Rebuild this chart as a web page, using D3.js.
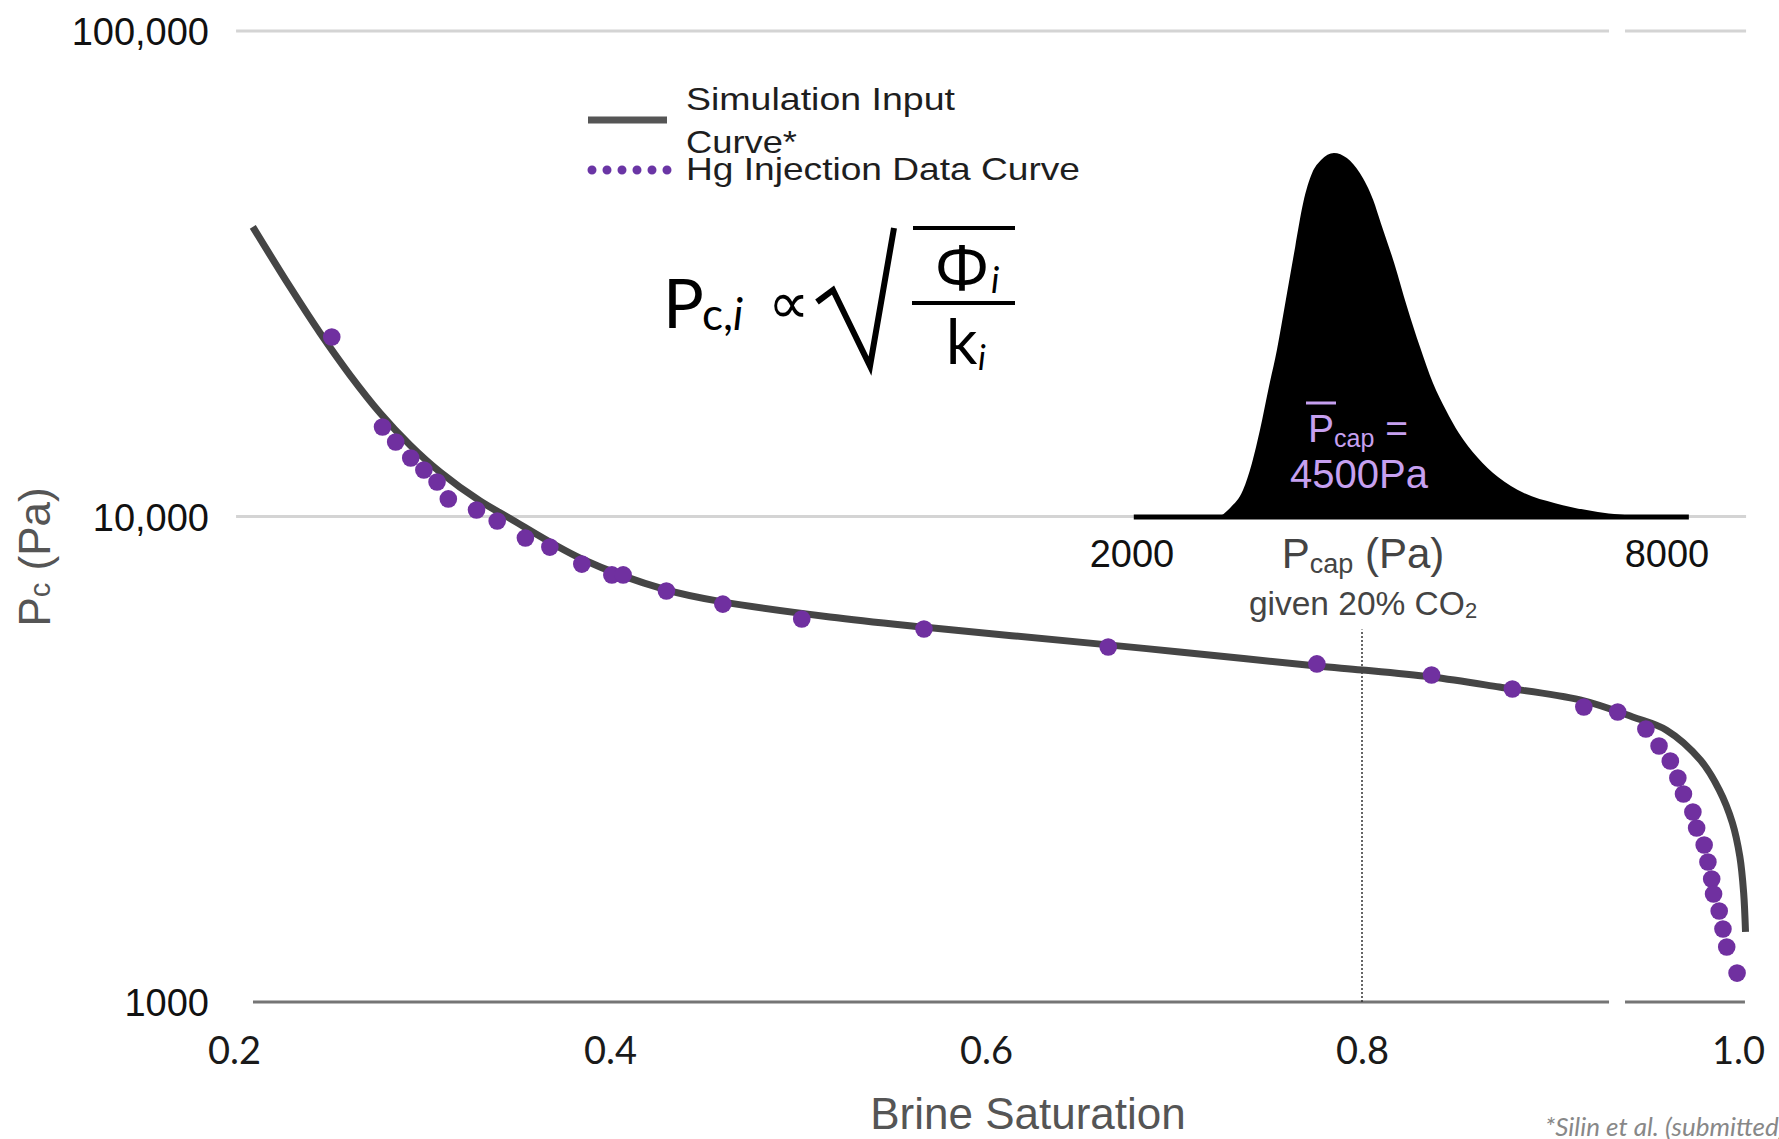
<!DOCTYPE html>
<html>
<head>
<meta charset="utf-8">
<title>Capillary pressure curve</title>
<script src="https://cdn.jsdelivr.net/npm/d3@7"></script>
<style>
    body { margin: 0; background: #ffffff; }
    svg { display: block; }
</style>
</head>
<body>
<div id="chart"></div>
<script>
// Variables
var width = 1779;
var height = 1139;

// simulation input curve (brine saturation, Pc in Pa)
var curveSw = [0.210, 0.2298, 0.2457, 0.2617, 0.2777, 0.2936, 0.3096, 0.3309, 0.345, 0.385, 0.430,
    0.460, 0.517, 0.5665, 0.665, 0.703, 0.776, 0.800, 0.837, 0.873, 0.916, 0.944, 0.962, 0.980,
    0.990, 0.997, 1.001, 1.003, 1.004];
var curvePc = [39500, 29700, 23900, 19560, 16340, 14040, 12350, 10760, 10000, 8175, 7060,
    6670, 6210, 5920, 5440, 5260, 4920, 4830, 4670, 4455, 4190, 3865, 3630, 3150,
    2735, 2340, 1990, 1680, 1395];

// Hg injection data points
var hgSw = [0.252, 0.279, 0.286, 0.294, 0.301, 0.308, 0.314, 0.329, 0.340, 0.355, 0.368, 0.385, 0.401,
    0.407, 0.430, 0.460, 0.502, 0.567, 0.665, 0.776, 0.837, 0.880, 0.918, 0.936, 0.951, 0.958, 0.964,
    0.968, 0.971, 0.976, 0.978, 0.982, 0.984, 0.986, 0.987, 0.990, 0.992, 0.994, 0.9995];
var hgPc = [23430, 15290, 14240, 13200, 12470, 11780, 10870, 10310, 9790, 9030, 8650, 7980, 7580,
    7580, 7025, 6600, 6150, 5865, 5385, 4970, 4715, 4412, 4052, 3957, 3650, 3368, 3136,
    2893, 2682, 2462, 2282, 2105, 1943, 1792, 1669, 1540, 1414, 1298, 1147];

var xTicks = [0.2, 0.4, 0.6, 0.8, 1.0];
var xTickLabels = ["0.2", "0.4", "0.6", "0.8", "1.0"];
var yTicks = [1000, 10000, 100000];
var yTickLabels = ["1000", "10,000", "100,000"];

// gridline cut (brine saturation units) and the dotted marker at Sw = 0.8
var gridBreak = [0.9314, 0.9399];
var refSw = 0.8;
var refPcTop = 5850;

// inset: distribution of Pcap given 20% CO2 (relative frequency)
var histPcap = [2020, 2950, 3100, 3245, 3345, 3435, 3535, 3625, 3725, 3830, 3920, 4020, 4120, 4265,
    4410, 4555, 4705, 4790, 4940, 5085, 5230, 5375, 5520, 5665, 5870, 6105, 6395, 6745, 7225, 7710, 8245];
var histFreq = [0, 0, 0.025, 0.074, 0.148, 0.239, 0.357, 0.459, 0.596, 0.742, 0.863, 0.945, 0.981, 1.0,
    0.986, 0.945, 0.871, 0.808, 0.698, 0.577, 0.467, 0.368, 0.294, 0.231, 0.165, 0.110, 0.066, 0.038, 0.014, 0.003, 0];
var insetTicks = [2000, 8000];
var insetTickLabels = ["2000", "8000"];

var svg;
var x, y;

var sansFont = "'Liberation Sans', Arial, sans-serif";
var gillFont = "Lato, 'Open Sans', sans-serif";

// Functions
function init() {
    svg = d3.select("#chart")
        .append("svg")
        .attr("width", width)
        .attr("height", height);

    x = d3.scaleLinear().domain([0.2, 1.0]).range([234, 1738]);
    y = d3.scaleLog().domain([1000, 100000]).range([1002, 31]);

    drawGrid();
    drawInset();
    drawCurves();
    drawAxes();
    drawLegend();
    drawFormula();
}

/**
 * Horizontal gridlines with the small break near Sw = 0.935
 */
function drawGrid() {
    var rows = [
        {v: 100000, from: 0.2011, to: 1.0043, color: "#d4d4d4"},
        {v: 10000, from: 0.2011, to: 1.0043, color: "#d4d4d4"},
        {v: 1000, from: 0.2101, to: 1.0037, color: "#757575"}
    ];
    var segs = [];
    rows.forEach(function(r) {
        segs.push({v: r.v, a: r.from, b: gridBreak[0], color: r.color});
        segs.push({v: r.v, a: gridBreak[1], b: r.to, color: r.color});
    });

    svg.append("g").selectAll("line")
        .data(segs)
        .join("line")
        .attr("x1", function(d) { return x(d.a); })
        .attr("x2", function(d) { return x(d.b); })
        .attr("y1", function(d) { return y(d.v); })
        .attr("y2", function(d) { return y(d.v); })
        .attr("stroke", function(d) { return d.color; })
        .attr("stroke-width", 3);

    // dotted reference line
    svg.append("line")
        .attr("x1", x(refSw)).attr("x2", x(refSw))
        .attr("y1", y(1000)).attr("y2", y(refPcTop))
        .attr("stroke", "#333")
        .attr("stroke-width", 1.5)
        .attr("stroke-dasharray", "2,2");
}

function drawCurves() {
    var curveData = curveSw.map(function(s, i) { return {sw: s, pc: curvePc[i]}; });
    var hgData = hgSw.map(function(s, i) { return {sw: s, pc: hgPc[i]}; });

    var line = d3.line()
        .x(function(d) { return x(d.sw); })
        .y(function(d) { return y(d.pc); })
        .curve(d3.curveCatmullRom.alpha(0.5));

    svg.append("path")
        .datum(curveData)
        .attr("d", line)
        .attr("fill", "none")
        .attr("stroke", "#454545")
        .attr("stroke-width", 7);

    svg.append("g").selectAll("circle")
        .data(hgData)
        .join("circle")
        .attr("cx", function(d) { return x(d.sw); })
        .attr("cy", function(d) { return y(d.pc); })
        .attr("r", 8.8)
        .attr("fill", "#7030a0");
}

function drawAxes() {
    var yAxis = d3.axisLeft(y)
        .tickValues(yTicks)
        .tickFormat(function(d, i) { return yTickLabels[i]; })
        .tickSize(0)
        .tickPadding(0);

    var gy = svg.append("g")
        .attr("transform", "translate(209,0)")
        .call(yAxis);
    gy.select(".domain").remove();
    gy.attr("font-family", sansFont).attr("font-size", 38);
    gy.selectAll("text").attr("fill", "#111").attr("dy", "0.36em");

    var xAxis = d3.axisBottom(x)
        .tickValues(xTicks)
        .tickFormat(function(d, i) { return xTickLabels[i]; })
        .tickSize(0)
        .tickPadding(0);

    var gx = svg.append("g")
        .attr("transform", "translate(0," + y(1000) + ")")
        .call(xAxis);
    gx.select(".domain").remove();
    gx.attr("font-family", gillFont).attr("font-size", 38);
    gx.selectAll("text").attr("fill", "#1a1a1a").attr("y", 35);

    // axis titles
    svg.append("text")
        .attr("x", 1028)
        .attr("y", 1129)
        .attr("text-anchor", "middle")
        .attr("font-family", sansFont)
        .attr("font-size", 44)
        .attr("fill", "#555")
        .text("Brine Saturation");

    var yt = svg.append("text")
        .attr("transform", "translate(50,557) rotate(-90)")
        .attr("text-anchor", "middle")
        .attr("font-family", sansFont)
        .attr("font-size", 44)
        .attr("fill", "#555");
    yt.append("tspan").text("P");
    yt.append("tspan").attr("font-size", 29).text("c");
    yt.append("tspan").text(" (Pa)");

    svg.append("text")
        .attr("x", 1545)
        .attr("y", 1136)
        .attr("font-family", gillFont)
        .attr("font-style", "italic")
        .attr("font-size", 26)
        .attr("fill", "#888")
        .text("*Silin et al. (submitted)");
}

/**
 * Inset histogram of the capillary entry pressure
 */
function drawInset() {
    var ix = d3.scaleLinear().domain([2000, 8000]).range([1132, 1667]);
    var iy = d3.scaleLinear().domain([0, 1]).range([517, 153]);
    var histData = histPcap.map(function(p, i) { return {p: p, f: histFreq[i]}; });

    var area = d3.area()
        .x(function(d) { return ix(d.p); })
        .y0(iy(0))
        .y1(function(d) { return iy(d.f); })
        .curve(d3.curveMonotoneX);

    svg.append("path")
        .datum(histData)
        .attr("d", area)
        .attr("fill", "#000");

    svg.append("line")
        .attr("x1", ix(histPcap[0])).attr("x2", ix(histPcap[histPcap.length - 1]))
        .attr("y1", iy(0)).attr("y2", iy(0))
        .attr("stroke", "#000")
        .attr("stroke-width", 5);

    svg.append("g").selectAll("text")
        .data(insetTicks)
        .join("text")
        .attr("x", function(d) { return ix(d); })
        .attr("y", 567)
        .attr("text-anchor", "middle")
        .attr("font-family", sansFont)
        .attr("font-size", 38)
        .attr("fill", "#111")
        .text(function(d, i) { return insetTickLabels[i]; });

    var t = svg.append("text")
        .attr("x", 1363).attr("y", 568)
        .attr("text-anchor", "middle")
        .attr("font-family", sansFont)
        .attr("font-size", 42)
        .attr("fill", "#444");
    t.append("tspan").text("P");
    t.append("tspan").attr("font-size", 27).attr("dy", 5).text("cap");
    t.append("tspan").attr("dy", -5).text(" (Pa)");

    var g2 = svg.append("text")
        .attr("x", 1363).attr("y", 615)
        .attr("text-anchor", "middle")
        .attr("font-family", sansFont)
        .attr("font-size", 33.5)
        .attr("fill", "#444");
    g2.append("tspan").text("given 20% CO");
    g2.append("tspan").attr("font-size", 22).attr("dy", 3).text("2");

    // mean label in lavender
    var lav = "#c6a0f0";
    var m = svg.append("text")
        .attr("x", 1308).attr("y", 442)
        .attr("font-family", sansFont)
        .attr("font-size", 39)
        .attr("fill", lav);
    m.append("tspan").text("P");
    m.append("tspan").attr("font-size", 25).attr("dy", 5).text("cap");
    m.append("tspan").attr("dy", -5).text(" =");
    svg.append("line")
        .attr("x1", 1306).attr("x2", 1336)
        .attr("y1", 403).attr("y2", 403)
        .attr("stroke", lav)
        .attr("stroke-width", 3);

    svg.append("text")
        .attr("x", 1359).attr("y", 488)
        .attr("text-anchor", "middle")
        .attr("font-family", sansFont)
        .attr("font-size", 40)
        .attr("fill", lav)
        .text("4500Pa");
}

function drawLegend() {
    svg.append("line")
        .attr("x1", 588).attr("x2", 667)
        .attr("y1", 120).attr("y2", 120)
        .attr("stroke", "#555")
        .attr("stroke-width", 7);

    svg.append("line")
        .attr("x1", 592).attr("x2", 668)
        .attr("y1", 170).attr("y2", 170)
        .attr("stroke", "#6a35a5")
        .attr("stroke-width", 9)
        .attr("stroke-linecap", "round")
        .attr("stroke-dasharray", "0,15");

    var items = [
        {t: "Simulation Input", y: 110, w: 269},
        {t: "Curve*", y: 153, w: 111},
        {t: "Hg Injection Data Curve", y: 180, w: 394}
    ];
    svg.append("g").selectAll("text")
        .data(items)
        .join("text")
        .attr("x", 686)
        .attr("y", function(d) { return d.y; })
        .attr("font-family", sansFont)
        .attr("font-size", 32)
        .attr("fill", "#1e1e1e")
        .attr("textLength", function(d) { return d.w; })
        .attr("lengthAdjust", "spacingAndGlyphs")
        .text(function(d) { return d.t; });
}

/**
 * Pc,i ~ sqrt(phi_i / k_i)
 */
function drawFormula() {
    var f = svg.append("g").attr("fill", "#000");

    f.append("text").attr("x", 663).attr("y", 328)
        .attr("font-family", gillFont).attr("font-size", 68).text("P");
    var sub = f.append("text").attr("x", 702).attr("y", 330)
        .attr("font-family", gillFont).attr("font-size", 44);
    sub.append("tspan").text("c,");
    sub.append("tspan").attr("font-style", "italic").text("i");

    f.append("text").attr("x", 768).attr("y", 323)
        .attr("font-family", "'DejaVu Sans', sans-serif").attr("font-size", 58).text("\u221D");

    // radical sign
    f.append("path")
        .attr("d", "M817,302 L833,290 L870,366 L894,228")
        .attr("fill", "none")
        .attr("stroke", "#000")
        .attr("stroke-width", 6)
        .attr("stroke-linejoin", "miter");
    f.append("line").attr("x1", 913).attr("x2", 1015).attr("y1", 228).attr("y2", 228)
        .attr("stroke", "#000").attr("stroke-width", 4);
    f.append("line").attr("x1", 912).attr("x2", 1015).attr("y1", 303).attr("y2", 303)
        .attr("stroke", "#000").attr("stroke-width", 4);

    f.append("text").attr("x", 962).attr("y", 291).attr("text-anchor", "middle")
        .attr("font-family", "'Noto Sans', 'DejaVu Sans', sans-serif").attr("font-size", 64).text("\u03A6");
    f.append("text").attr("x", 991).attr("y", 293)
        .attr("font-family", gillFont).attr("font-style", "italic").attr("font-size", 36).text("i");

    f.append("text").attr("x", 946).attr("y", 364)
        .attr("font-family", gillFont).attr("font-size", 62).text("k");
    f.append("text").attr("x", 978).attr("y", 370)
        .attr("font-family", gillFont).attr("font-style", "italic").attr("font-size", 34).text("i");
}

init();
</script>
</body>
</html>
